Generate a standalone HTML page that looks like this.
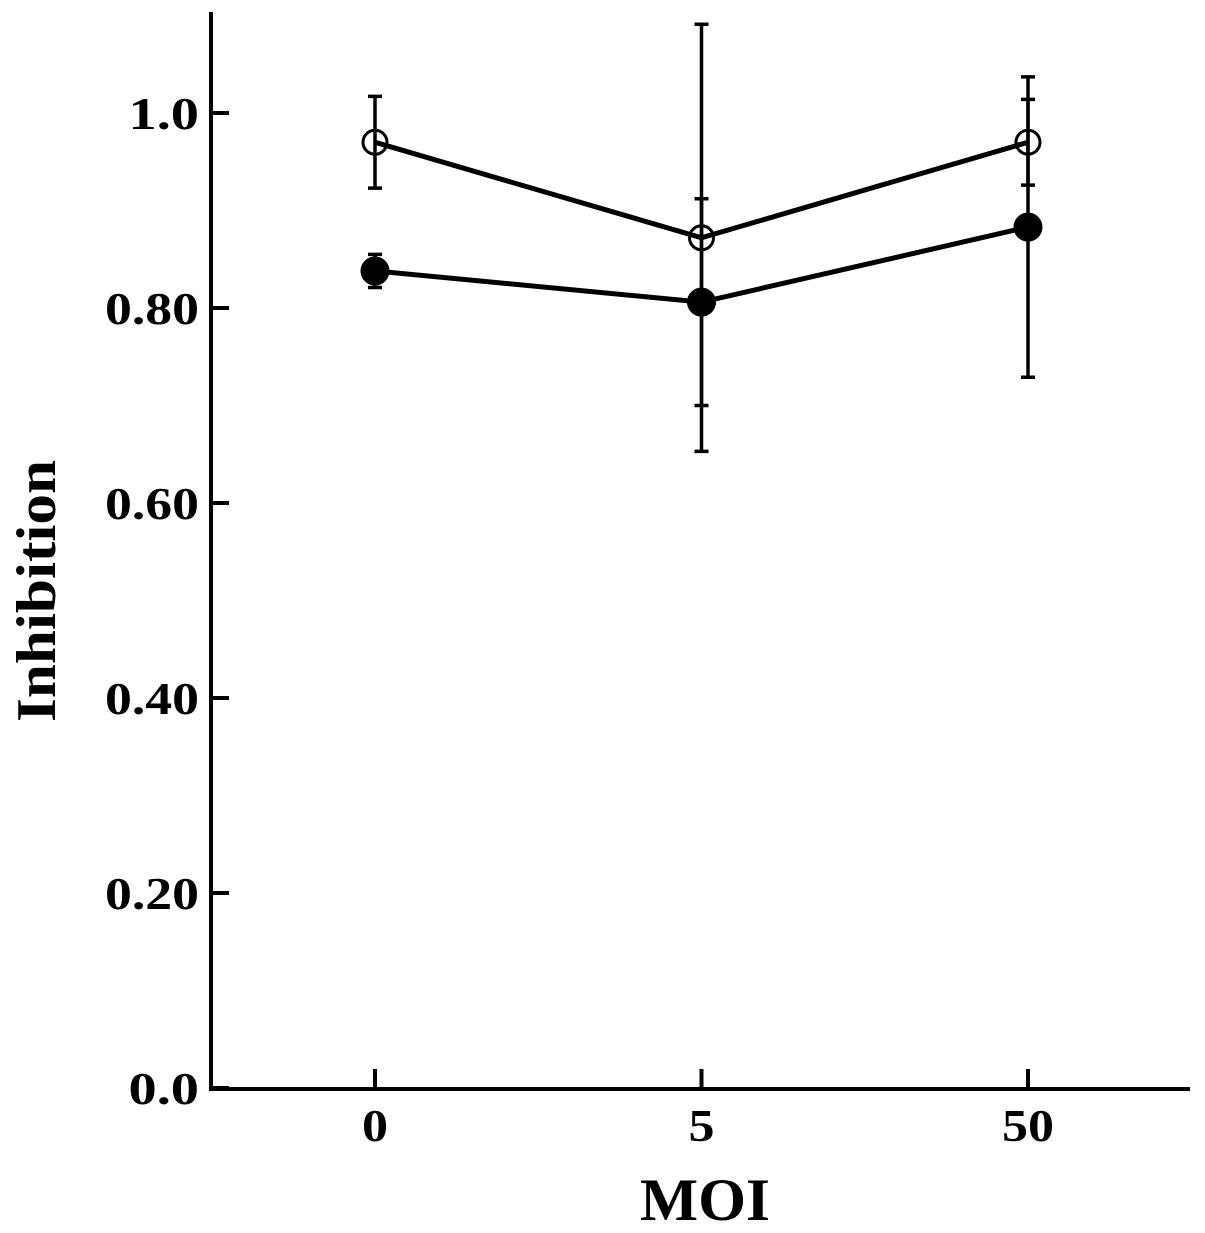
<!DOCTYPE html>
<html><head><meta charset="utf-8"><style>body{margin:0;background:#fff}svg{display:block}text{font-family:"Liberation Serif",serif;font-weight:bold;fill:#000}</style></head>
<body>
<svg width="1205" height="1233" viewBox="0 0 1205 1233">
<g id="axes"></g>
<g id="series"></g>
<text x="705" y="1220" text-anchor="middle" font-size="60" textLength="130" lengthAdjust="spacingAndGlyphs">MOI</text>
<text transform="translate(55,591) rotate(-90)" text-anchor="middle" font-size="56" textLength="262" lengthAdjust="spacingAndGlyphs">Inhibition</text>
</svg>
<script>
const categories = ["0","5","50"];
const yTicks = [0,0.2,0.4,0.6,0.8,1.0];
const yTickLabels = ["0.0","0.20","0.40","0.60","0.80","1.0"];
const openMeans = [0.97,0.872,0.97];
const openErrs = [0.047,0.219,0.044];
const filledMeans = [0.838,0.806,0.883];
const filledErrs = [0.017,0.106,0.154];

const NS="http://www.w3.org/2000/svg";
const X0=211,X1=1190,Y0=1089,Ytop=12;
function yS(v){return 1088-v*975;}
function xS(i){return 375+i*326.5;}
function mk(tag,attrs,parent){const e=document.createElementNS(NS,tag);for(const k in attrs)e.setAttribute(k,attrs[k]);parent.appendChild(e);return e;}
const ax=document.getElementById('axes');
let e=mk('path',{d:`M${X0},${Ytop}V${Y0}H${X1}`,fill:'none',stroke:'#000','stroke-width':4},ax);


yTicks.forEach((v,i)=>{
  const y=yS(v);
  const t=mk('line',{x1:X0,x2:X0+18,y1:y,y2:y,stroke:'#000','stroke-width':4},ax);
  
  
  const s=yTickLabels[i];
  const l=mk('text',{x:199,y:y+16,'text-anchor':'end','font-size':46,textLength:s.length*23.5,lengthAdjust:'spacingAndGlyphs'},ax);
  l.textContent=s;
  
  
});
categories.forEach((c,i)=>{
  const x=xS(i);
  const t=mk('line',{x1:x,x2:x,y1:Y0-20,y2:Y0,stroke:'#000','stroke-width':4},ax);
  
  
  const l=mk('text',{x:x,y:1141,'text-anchor':'middle','font-size':46,textLength:c.length*26,lengthAdjust:'spacingAndGlyphs'},ax);
  l.textContent=c;
  
  
});
const sg=document.getElementById('series');
function series(means,errs,filled,name){
  const g=mk('g',{},sg);
  
  
  means.forEach((m,i)=>{
    const x=xS(i),a=yS(m+errs[i]),b=yS(m-errs[i]);
    const eb=mk('path',{d:`M${x},${a}V${b}M${x-7},${a}H${x+7}M${x-7},${b}H${x+7}`,stroke:'#000','stroke-width':3.5,fill:'none'},g);
    
    
  });
  const ln=mk('polyline',{points:means.map((m,i)=>xS(i)+','+yS(m)).join(' '),fill:'none',stroke:'#000','stroke-width':5},g);
  
  
  means.forEach((m,i)=>{
    const p=mk('circle',{cx:xS(i),cy:yS(m),r:filled?14:12,fill:filled?'#000':'none',stroke:'#000','stroke-width':filled?1:3},g);
    
    
  });
}
series(openMeans,openErrs,false,'open-circle-series');
series(filledMeans,filledErrs,true,'filled-circle-series');
</script>
</body></html>
